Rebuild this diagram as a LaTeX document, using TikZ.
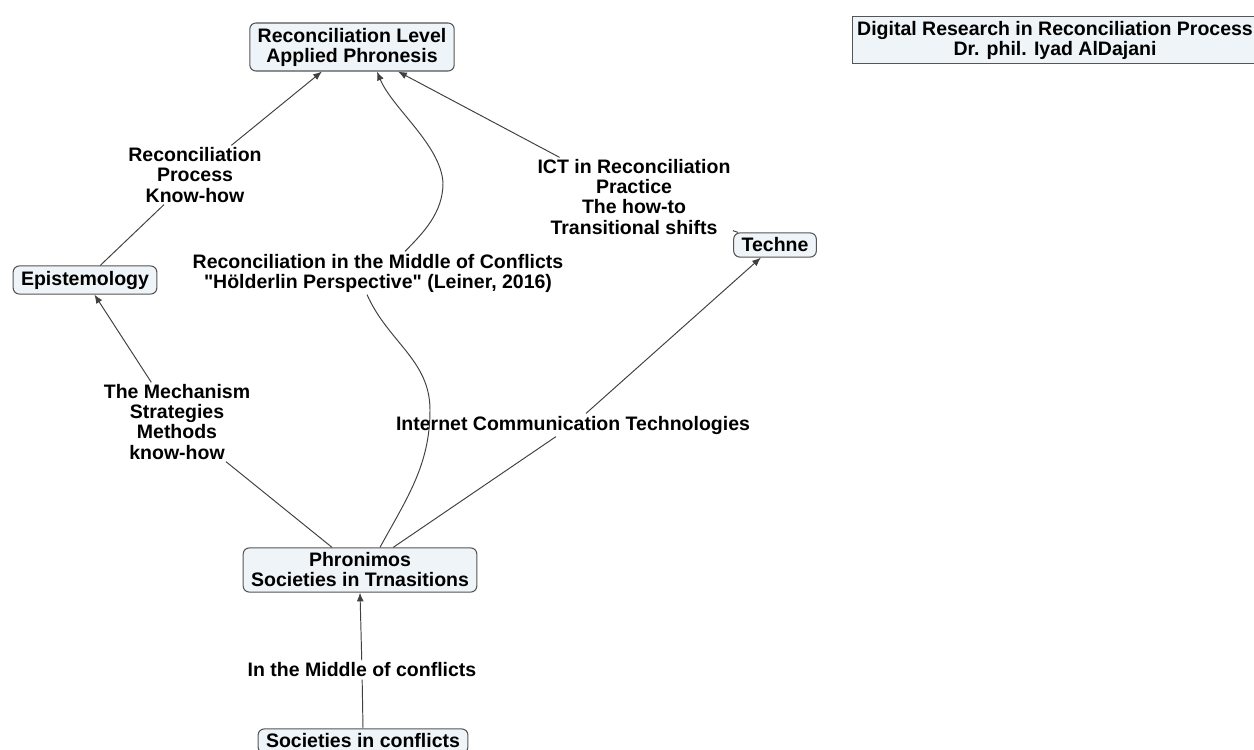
\documentclass[tikz,border=0pt]{standalone}
\usepackage{fontspec}
\setmainfont{Liberation Sans}[Ligatures=TeXOff]
\usetikzlibrary{arrows.meta}
\definecolor{boxfill}{HTML}{EEF4F7}
\definecolor{boxline}{HTML}{555555}
\definecolor{linkline}{HTML}{404040}
\begin{document}
\begin{tikzpicture}[x=0.02cm,y=-0.02cm,
  font=\fontsize{11.1}{11.4}\selectfont\bfseries,
  concept/.style={draw=boxline,fill=boxfill,rounded corners=3.5pt,line width=0.6pt,
    align=center,inner xsep=4.5pt,inner ysep=2.8pt},
  titlebox/.style={draw=boxline,fill=boxfill,line width=0.6pt,align=center,
    inner xsep=2.5pt,inner ysep=2.5pt},
  linklabel/.style={fill=white,align=center,inner sep=1.2pt},
  link/.style={draw=linkline,line width=0.55pt},
  arrowlink/.style={link,-{Latex[length=5pt,width=4pt]}}]
\useasboundingbox (0,0) rectangle (1254,750);

% concepts
\node[concept] (rl) at (352,47) {Reconciliation Level\\Applied Phronesis};
\node[concept] (ep) at (85,280) {Epistemology};
\node[concept] (te) at (775,245) {Techne};
\node[concept] (ph) at (360,570) {Phronimos\\Societies in Trnasitions};
\node[concept] (sc) at (363,741) {Societies in conflicts};
\node[titlebox] (tt) at (1055,40) {Digital Research in Reconciliation Process\\Dr. phil. Iyad AlDajani};

% linking phrases
\node[linklabel] (l1) at (195,175) {Reconciliation\\Process\\Know-how};
\node[linklabel] (l2) at (634,197) {ICT in Reconciliation\\Practice\\The how-to\\Transitional shifts};
\node[linklabel] (l3) at (378,273) {Reconciliation in the Middle of Conflicts\\"Hölderlin Perspective" (Leiner, 2016)};
\node[linklabel] (l4) at (177,422) {The Mechanism\\Strategies\\Methods\\know-how};
\node[linklabel] (l5) at (573,425) {Internet Communication Technologies};
\node[linklabel] (l6) at (362,670) {In the Middle of conflicts};

% straight links
\draw[link] (ep) -- (l1);
\draw[arrowlink] (l1) -- (rl);
\draw[link] (ph) -- (l4);
\draw[arrowlink] (l4) -- (ep);
\draw[link] (ph) -- (l5);
\draw[arrowlink] (l5) -- (te);
\draw[link] (te) -- (l2);
\draw[arrowlink] (l2) -- (rl);
\draw[link] (sc.north) -- (l6);
\draw[arrowlink] (l6) -- (ph.south);

% curved link through the Hölderlin phrase
\coordinate (c1) at (430,410);
\coordinate (c2) at (443,183);
\draw[link] ([xshift=0.4cm]ph.north) .. controls (407,498) and (430,465) .. (c1)
  .. controls (430,360) and (388,342) .. ([xshift=-0.22cm]l3.south);
\draw[arrowlink] ([xshift=0.54cm]l3.north) .. controls (423,233) and (443,213) .. (c2)
  .. controls (441,145) and (392,108) .. ([xshift=0.5cm]rl.south);
\end{tikzpicture}
\end{document}
